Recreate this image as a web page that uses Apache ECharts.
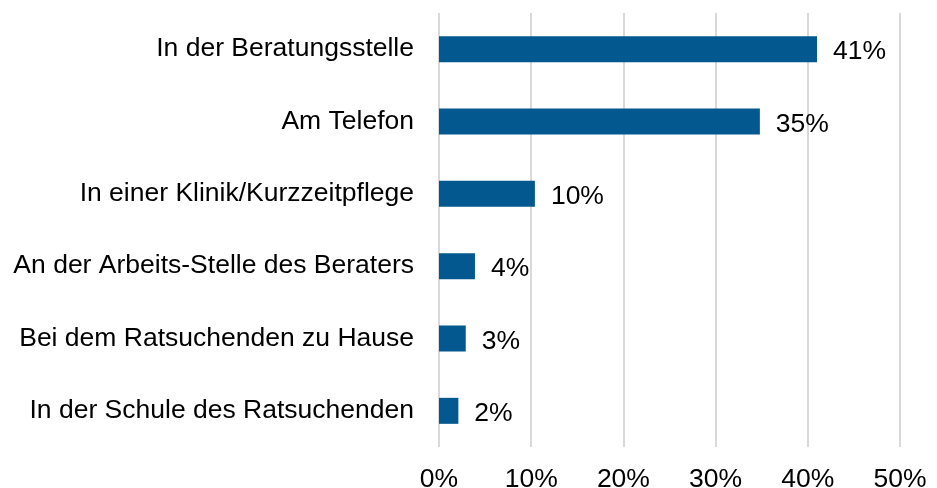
<!DOCTYPE html>
<html>
<head>
<meta charset="utf-8">
<script src="https://cdn.jsdelivr.net/npm/echarts@6/dist/echarts.min.js"></script>
<style>
  html, body { margin: 0; padding: 0; background: #fff; }
  #chart { width: 937px; height: 488px; }
</style>
</head>
<body>
<div id="chart"></div>
<script>
  // Kategorien von unten nach oben (y-Achse vom Typ category)
  const categories = [
    'In der Schule des Ratsuchenden',
    'Bei dem Ratsuchenden zu Hause',
    'An der Arbeits-Stelle des Beraters',
    'In einer Klinik/Kurzzeitpflege',
    'Am Telefon',
    'In der Beratungsstelle'
  ]
  const values = [2.1, 2.9, 3.9, 10.4, 34.8, 41.0]
  const xTicks = [0, 10, 20, 30, 40, 50]

  const myChart = echarts.init(document.getElementById('chart'))
  myChart.setOption({
    animation: false,
    textStyle: { fontFamily: 'Liberation Sans, Arial, sans-serif' },
    grid: {
      top: 13,
      bottom: 41,
      left: 439,
      right: 37,
      outerBoundsMode: 'none' // Gitter nicht wegen der Achsenbeschriftung verkleinern
    },
    xAxis: {
      type: 'value',
      min: xTicks[0],
      max: xTicks[xTicks.length - 1],
      interval: 10,
      axisLine: { show: false },
      axisTick: { show: false },
      splitLine: { lineStyle: { color: '#d9d9d9', width: 2 } },
      axisLabel: {
        color: '#000',
        fontSize: 26.5,
        margin: 19,
        formatter: '{value}%'
      }
    },
    yAxis: {
      type: 'category',
      data: categories,
      axisLine: { show: false },
      axisTick: { show: false },
      axisLabel: {
        color: '#000',
        fontSize: 26.5,
        margin: 25,
        padding: [3, 0, 0, 0]
      }
    },
    series: [{
      type: 'bar',
      data: values,
      barWidth: 26,
      itemStyle: { color: '#02588f' },
      label: {
        show: true,
        position: 'right',
        distance: 16,
        offset: [0, 3],
        color: '#000',
        fontSize: 26.5,
        formatter: p => Math.round(p.value) + '%'
      }
    }]
  })
</script>
</body>
</html>
